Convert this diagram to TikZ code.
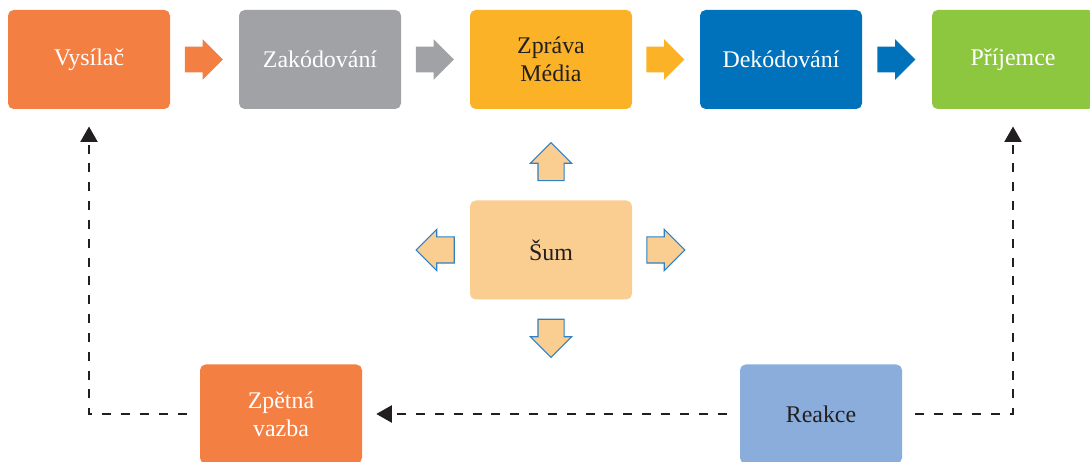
\documentclass[tikz,border=0pt]{standalone}
\usepackage{fontspec}
\setmainfont{Liberation Serif}
\usetikzlibrary{positioning}
\usetikzlibrary{calc}
\usetikzlibrary{shapes.arrows}
\usetikzlibrary{arrows.meta}

\definecolor{vysorange}{HTML}{F47F43}
\definecolor{zakgray}{HTML}{A0A2A5}
\definecolor{zprayellow}{HTML}{FBB226}
\definecolor{dekblue}{HTML}{0072BC}
\definecolor{prigreen}{HTML}{8DC63F}
\definecolor{sumpeach}{HTML}{FACD91}
\definecolor{reakblue}{HTML}{8AADDB}
\definecolor{edgeblue}{HTML}{2F80C4}
\definecolor{dashgray}{HTML}{231F20}

\tikzset{
  box/.style={rectangle,rounded corners=4pt,minimum width=4.05cm,minimum height=2.475cm,
    align=center,font=\fontsize{17}{20}\selectfont,text=white},
  flowarrow/.style={single arrow,single arrow head extend=0.1875cm,inner xsep=0pt,
    inner ysep=0.3125cm,minimum height=0.95cm,draw=none},
  noisearrow/.style={flowarrow,fill=sumpeach,draw=edgeblue,line width=0.8pt},
  feedback/.style={dashgray,line width=1.8pt,dash pattern=on 6.4pt off 7pt,
    -{Triangle[length=11pt,width=12pt]}},
}

\begin{document}
\begin{tikzpicture}

\useasboundingbox (0,0) rectangle (27.25,11.55);

\node[box,fill=vysorange] (vys) at (2.225,10.0625) {Vysílač};
\node[box,fill=zakgray] (zak) at (8.0,10.0625) {Zakódování};
\node[box,fill=zprayellow,text=dashgray] (zpr) at (13.775,10.0625) {Zpráva\\Média};
\node[box,fill=dekblue] (dek) at (19.525,10.0625) {Dekódování};
\node[box,fill=prigreen] (pri) at (25.325,10.0625) {Příjemce};

% arrows between the boxes
\node[flowarrow,fill=vysorange] (a1) at ($(vys.east)!0.5!(zak.west)+(-0.175,0)$) {};
\node[flowarrow,fill=zakgray] (a2) at ($(zak.east)!0.5!(zpr.west)+(-0.175,0)$) {};
\node[flowarrow,fill=zprayellow] (a3) at ($(zpr.east)!0.5!(dek.west)+(-0.175,0)$) {};
\node[flowarrow,fill=dekblue] (a4) at ($(dek.east)!0.5!(pri.west)+(-0.175,0)$) {};

\node[box,fill=sumpeach,text=dashgray] (sum) at (13.775,5.3) {Šum};
\node[noisearrow,rotate=90] (nup) at ($(sum.north)+(0,0.8)$) {};
\node[noisearrow,rotate=-90] (ndown) at ($(sum.south)+(0,-0.8)$) {};
\node[noisearrow,rotate=180] (nleft) at ($(sum.west)+(-0.7,0)$) {};
\node[noisearrow] (nright) at ($(sum.east)+(0.675,0)$) {};

\node[box,fill=vysorange] (zpet) at (7.025,1.2) {Zpětná\\vazba};
\node[box,fill=reakblue,text=dashgray] (reak) at (20.525,1.2) {Reakce};

% feedback
\draw[feedback,shorten <=0.33cm,shorten >=0.35cm] (reak.west) -- (zpet.east);
\draw[feedback,shorten <=0.33cm,shorten >=0.43cm] (zpet.west) -| (vys.south);
\draw[feedback,shorten <=0.33cm,shorten >=0.43cm] (reak.east) -| (pri.south);

\end{tikzpicture}
\end{document}
